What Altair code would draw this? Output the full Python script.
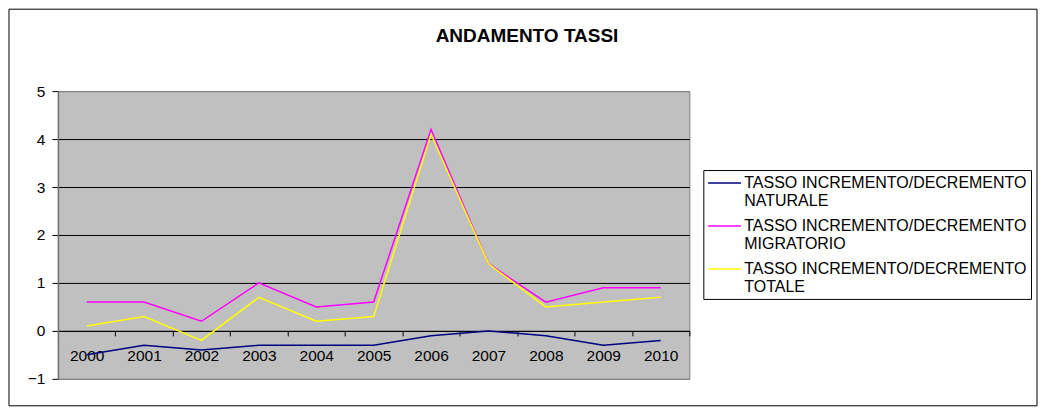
import altair as alt
import pandas as pd

years = [str(y) for y in range(2000, 2011)]
naturale = [-0.5, -0.3, -0.4, -0.3, -0.3, -0.3, -0.1, 0.0, -0.1, -0.3, -0.2]
migratorio = [0.6, 0.6, 0.2, 1.0, 0.5, 0.6, 4.2, 1.4, 0.6, 0.9, 0.9]
totale = [0.1, 0.3, -0.2, 0.7, 0.2, 0.3, 4.1, 1.4, 0.5, 0.6, 0.7]
series_names = [
    "TASSO INCREMENTO/DECREMENTO\nNATURALE",
    "TASSO INCREMENTO/DECREMENTO\nMIGRATORIO",
    "TASSO INCREMENTO/DECREMENTO\nTOTALE",
]
series_colors = ["#000080", "#FF00FF", "#FFFF00"]
y_ticks = [-1, 0, 1, 2, 3, 4, 5]
title_text = "ANDAMENTO TASSI"

rows = []
for name, vals in zip(series_names, [naturale, migratorio, totale]):
    for yr, v in zip(years, vals):
        rows.append({"anno": yr, "serie": name, "valore": v})
df = pd.DataFrame(rows)

W, H = 632, 288
FONT = "Liberation Sans"

lines = alt.Chart(df).mark_line(strokeWidth=1.5).encode(
    x=alt.X(
        "anno:N",
        sort=years,
        scale=alt.Scale(paddingInner=0, paddingOuter=0),
        axis=alt.Axis(
            title=None, labelAngle=0, offset=-48, tickBand="extent",
            tickSize=5, tickColor="black", domainColor="black",
            labelPadding=13, labelFontSize=15.5, labelColor="black",
            labelFont=FONT, grid=False,
        ),
    ),
    y=alt.Y(
        "valore:Q",
        scale=alt.Scale(domain=[-1, 5], nice=False, zero=False),
        axis=alt.Axis(
            title=None, values=y_ticks, tickSize=6, tickColor="black",
            labelPadding=7, labelFontSize=15.5, labelColor="black",
            labelFont=FONT, domainColor="#707070", domainWidth=1.5,
            grid=True,
            gridColor={"condition": {"test": "datum.value === 5 || datum.value === -1",
                                     "value": "#808080"}, "value": "black"},
            gridWidth=1,
        ),
    ),
    color=alt.Color(
        "serie:N",
        scale=alt.Scale(domain=series_names, range=series_colors),
        legend=alt.Legend(
            title=None, orient="none", legendX=646, legendY=79,
            strokeColor="black", fillColor="white", padding=4,
            symbolType="M-1,0H3", symbolSize=270, symbolStrokeWidth=1.5,
            labelFont=FONT, labelFontSize=16, labelColor="black",
            labelExpr="split(datum.label, '\\n')", labelLimit=400,
            labelOffset=19, labelBaseline="middle", rowPadding=8,
        ),
    ),
)

border_df = pd.DataFrame({"k": [0]})
border = alt.Chart(border_df).mark_rect(filled=False, stroke="black", strokeWidth=1).encode(
    x=alt.value(-49), x2=alt.value(W + 348),
    y=alt.value(-82), y2=alt.value(H + 27),
)

chart = alt.layer(border, lines).properties(
    width=W, height=H,
    padding=0,
    background="white",
    title=alt.TitleParams(
        title_text, font=FONT, fontSize=19, fontWeight="bold", color="black",
        anchor="middle", dx=153.5, offset=-37.5,
    ),
).configure_view(fill="#C0C0C0", stroke="#808080", strokeWidth=1)

chart.save("out.html", embed_options={"renderer": "svg", "actions": False})
